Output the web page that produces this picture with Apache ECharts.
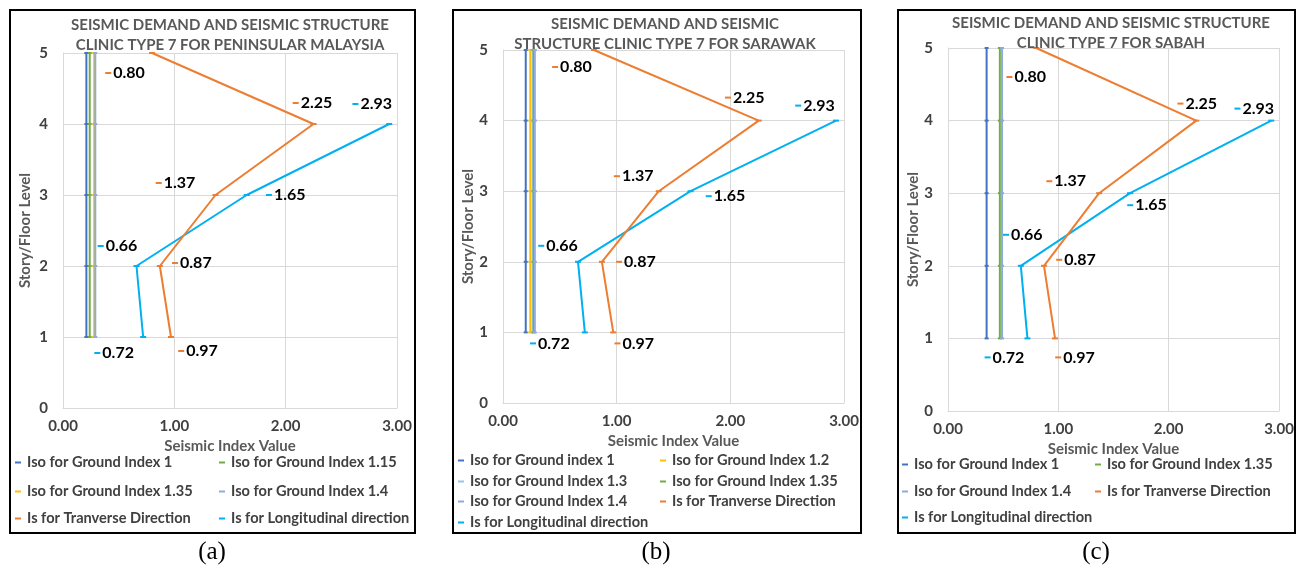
<!DOCTYPE html>
<html><head><meta charset="utf-8">
<script src="https://cdn.jsdelivr.net/npm/echarts@6/dist/echarts.min.js"></script>
<style>html,body{margin:0;padding:0;background:#fff}#c{width:1303px;height:568px}</style>
</head><body><div id="c"></div>
<script>
// ---------- DATA ----------
const floors = [1, 2, 3, 4, 5];
const xTickLabels = ['0.00', '1.00', '2.00', '3.00'];
const yTickLabels = ['0', '1', '2', '3', '4', '5'];
const transverseValues = [0.97, 0.87, 1.37, 2.25, 0.80];   // floors 1..5
const longitudinalValues = [0.72, 0.66, 1.65, 2.93];       // floors 1..4
const isoNamesA = ['Iso for Ground Index 1', 'Iso for Ground Index 1.15', 'Iso for Ground Index 1.35', 'Iso for Ground Index 1.4'];
const isoValuesA = [0.21, 0.24, 0.28, 0.29];
const isoNamesB = ['Iso for Ground index 1', 'Iso for Ground Index 1.2', 'Iso for Ground Index 1.3', 'Iso for Ground Index 1.35', 'Iso for Ground Index 1.4'];
const isoValuesB = [0.20, 0.24, 0.26, 0.27, 0.28];
const isoNamesC = ['Iso for Ground Index 1', 'Iso for Ground Index 1.35', 'Iso for Ground Index 1.4'];
const isoValuesC = [0.35, 0.47, 0.49];
const transverseName = 'Is for Tranverse Direction';
const longitudinalName = 'Is for Longitudinal direction';
const panelTitles = [
  'SEISMIC DEMAND AND SEISMIC STRUCTURE\nCLINIC TYPE 7 FOR PENINSULAR MALAYSIA',
  'SEISMIC DEMAND AND SEISMIC\nSTRUCTURE CLINIC TYPE 7 FOR SARAWAK',
  'SEISMIC DEMAND AND SEISMIC STRUCTURE\nCLINIC TYPE 7 FOR SABAH'
];
const captions = ['(a)', '(b)', '(c)'];
const xAxisTitle = 'Seismic Index Value';
const yAxisTitle = 'Story/Floor Level';

// ---------- STYLE / LAYOUT ----------
const FONT = 'Lato, "Open Sans", sans-serif';
const TXT = '#404040';
const colorsA = ['#4472C4', '#70AD47', '#FFC000', '#8FAADC'];
const colorsB = ['#4472C4', '#FFC000', '#9DC3E6', '#70AD47', '#8FAADC'];
const colorsC = ['#4472C4', '#70AD47', '#8FAADC'];
const ORANGE = '#ED7D31', CYAN = '#00B0F0';

const panels = [
  { grid: { left: 63, top: 53, width: 334, height: 355 }, box: [10, 10, 405, 523], titleX: 230, titleY: 15,
    isoNames: isoNamesA, isoValues: isoValuesA, colors: colorsA, xGap: 29, yGap: 30,
    tOff: [[27, 14], [32, -3], [-40, -12], [-1, -21], [-27, 20]],
    lOff: [[-29, 16], [-19, -20], [39, 0], [-17, -20]],
    legendCols: [15, 219], legendRows: [463, 492, 519], caption: [212, 552] },
  { grid: { left: 503, top: 50, width: 341, height: 353 }, box: [453, 10, 408, 523], titleX: 665, titleY: 14,
    isoNames: isoNamesB, isoValues: isoValuesB, colors: colorsB, xGap: 29, yGap: 25,
    tOff: [[21, 11], [34, 0], [-25, -15], [-14, -23], [-22, 17]],
    lOff: [[-35, 11], [-20, -16], [35, 5], [-21, -15]],
    legendCols: [458, 660], legendRows: [461, 482, 502, 523], caption: [656, 552] },
  { grid: { left: 948, top: 48, width: 331, height: 363 }, box: [898, 10, 397, 523], titleX: 1111, titleY: 13,
    isoNames: isoNamesC, isoValues: isoValuesC, colors: colorsC, xGap: 26, yGap: 26,
    tOff: [[20, 19], [32, -6], [-33, -12], [1, -17], [-10, 29]],
    lOff: [[-23, 19], [2, -31], [17, 12], [-17, -12]],
    legendCols: [902, 1095], legendRows: [465, 492, 518], caption: [1096, 552] }
];

function labelFor(color, off) {
  return {
    show: true, position: 'inside', offset: off,
    formatter: p => '{k|}{v|' + p.value[0].toFixed(2) + '}',
    rich: {
      k: { width: 6, height: 2, backgroundColor: color, verticalAlign: 'middle' },
      v: { fontFamily: FONT, fontWeight: 'bold', fontSize: 16, color: '#000', padding: [0, 0, 0, 2] }
    }
  };
}

const option = {
  animation: false,
  backgroundColor: '#fff',
  title: [], grid: [], xAxis: [], yAxis: [], series: [], legend: [], graphic: []
};

panels.forEach((P, i) => {
  option.grid.push(Object.assign({ containLabel: false }, P.grid));
  option.xAxis.push({
    type: 'value', gridIndex: i, min: 0, max: 3, interval: 1,
    name: xAxisTitle, nameLocation: 'middle', nameGap: P.xGap,
    nameTextStyle: { fontFamily: FONT, fontWeight: 'bold', fontSize: 15, color: '#595959' },
    axisLine: { show: true, lineStyle: { color: '#D9D9D9' } },
    axisTick: { show: false },
    splitLine: { show: true, lineStyle: { color: '#D9D9D9' } },
    axisLabel: { margin: 11, fontFamily: FONT, fontWeight: 'bold', fontSize: 15, color: TXT,
      formatter: v => xTickLabels[Math.round(v)] }
  });
  option.yAxis.push({
    type: 'value', gridIndex: i, min: 0, max: 5, interval: 1,
    name: yAxisTitle, nameLocation: 'middle', nameGap: P.yGap,
    nameTextStyle: { fontFamily: FONT, fontWeight: 'bold', fontSize: 15, color: '#595959' },
    axisLine: { show: true, lineStyle: { color: '#D9D9D9' } },
    axisTick: { show: false },
    splitLine: { show: true, lineStyle: { color: '#D9D9D9' } },
    axisLabel: { margin: 15, fontFamily: FONT, fontWeight: 'bold', fontSize: 15, color: TXT,
      formatter: v => yTickLabels[Math.round(v)] }
  });
  option.title.push({
    text: panelTitles[i], left: P.titleX, top: P.titleY, textAlign: 'center', padding: 0,
    textStyle: { fontFamily: FONT, fontWeight: 'bold', fontSize: 15, color: '#595959', lineHeight: 20 }
  });

  P.isoNames.forEach((nm, k) => {
    option.series.push({
      type: 'line', name: nm, xAxisIndex: i, yAxisIndex: i,
      data: floors.map(f => [P.isoValues[k], f]),
      symbol: 'rect', symbolSize: [4, 2], showSymbol: true,
      itemStyle: { color: P.colors[k] },
      lineStyle: { color: P.colors[k], width: 2 },
      silent: true
    });
  });
  option.series.push({
    type: 'line', name: longitudinalName, xAxisIndex: i, yAxisIndex: i,
    data: longitudinalValues.map((v, k) => ({ value: [v, floors[k]], label: labelFor(CYAN, P.lOff[k]) })),
    symbol: 'rect', symbolSize: [6, 2],
    itemStyle: { color: CYAN }, lineStyle: { color: CYAN, width: 2 }, z: 3
  });
  option.series.push({
    type: 'line', name: transverseName, xAxisIndex: i, yAxisIndex: i,
    data: transverseValues.map((v, k) => ({ value: [v, floors[k]], label: labelFor(ORANGE, P.tOff[k]) })),
    symbol: 'rect', symbolSize: [6, 2],
    itemStyle: { color: ORANGE }, lineStyle: { color: ORANGE, width: 2 }, z: 4
  });

  // legends (2 columns)
  const legNames = P.isoNames.concat([transverseName, longitudinalName]);
  const legColors = P.colors.concat([ORANGE, CYAN]);
  legNames.forEach((nm, k) => {
    const col = k % 2, row = Math.floor(k / 2);
    option.legend.push({
      data: [{ name: nm, itemStyle: { color: legColors[k] } }],
      left: P.legendCols[col], top: P.legendRows[row] - 8, padding: 0,
      icon: 'rect', itemWidth: 6, itemHeight: 2, selectedMode: false,
      textStyle: { fontFamily: FONT, fontWeight: 'bold', fontSize: 14.6, color: TXT, padding: [0, 0, 0, 1] }
    });
  });

  option.graphic.push({
    type: 'rect', shape: { x: P.box[0], y: P.box[1], width: P.box[2], height: P.box[3] },
    style: { fill: 'none', stroke: '#000', lineWidth: 2 }, silent: true, z: 100
  });
  option.graphic.push({
    type: 'text', x: P.caption[0], y: P.caption[1],
    style: { text: captions[i], font: '25px "Liberation Serif", serif', fill: '#000',
      textAlign: 'center', textVerticalAlign: 'middle' }
  });
});

const chart = echarts.init(document.getElementById('c'), null, { renderer: 'canvas' });
chart.setOption(option);
</script>
</body></html>
